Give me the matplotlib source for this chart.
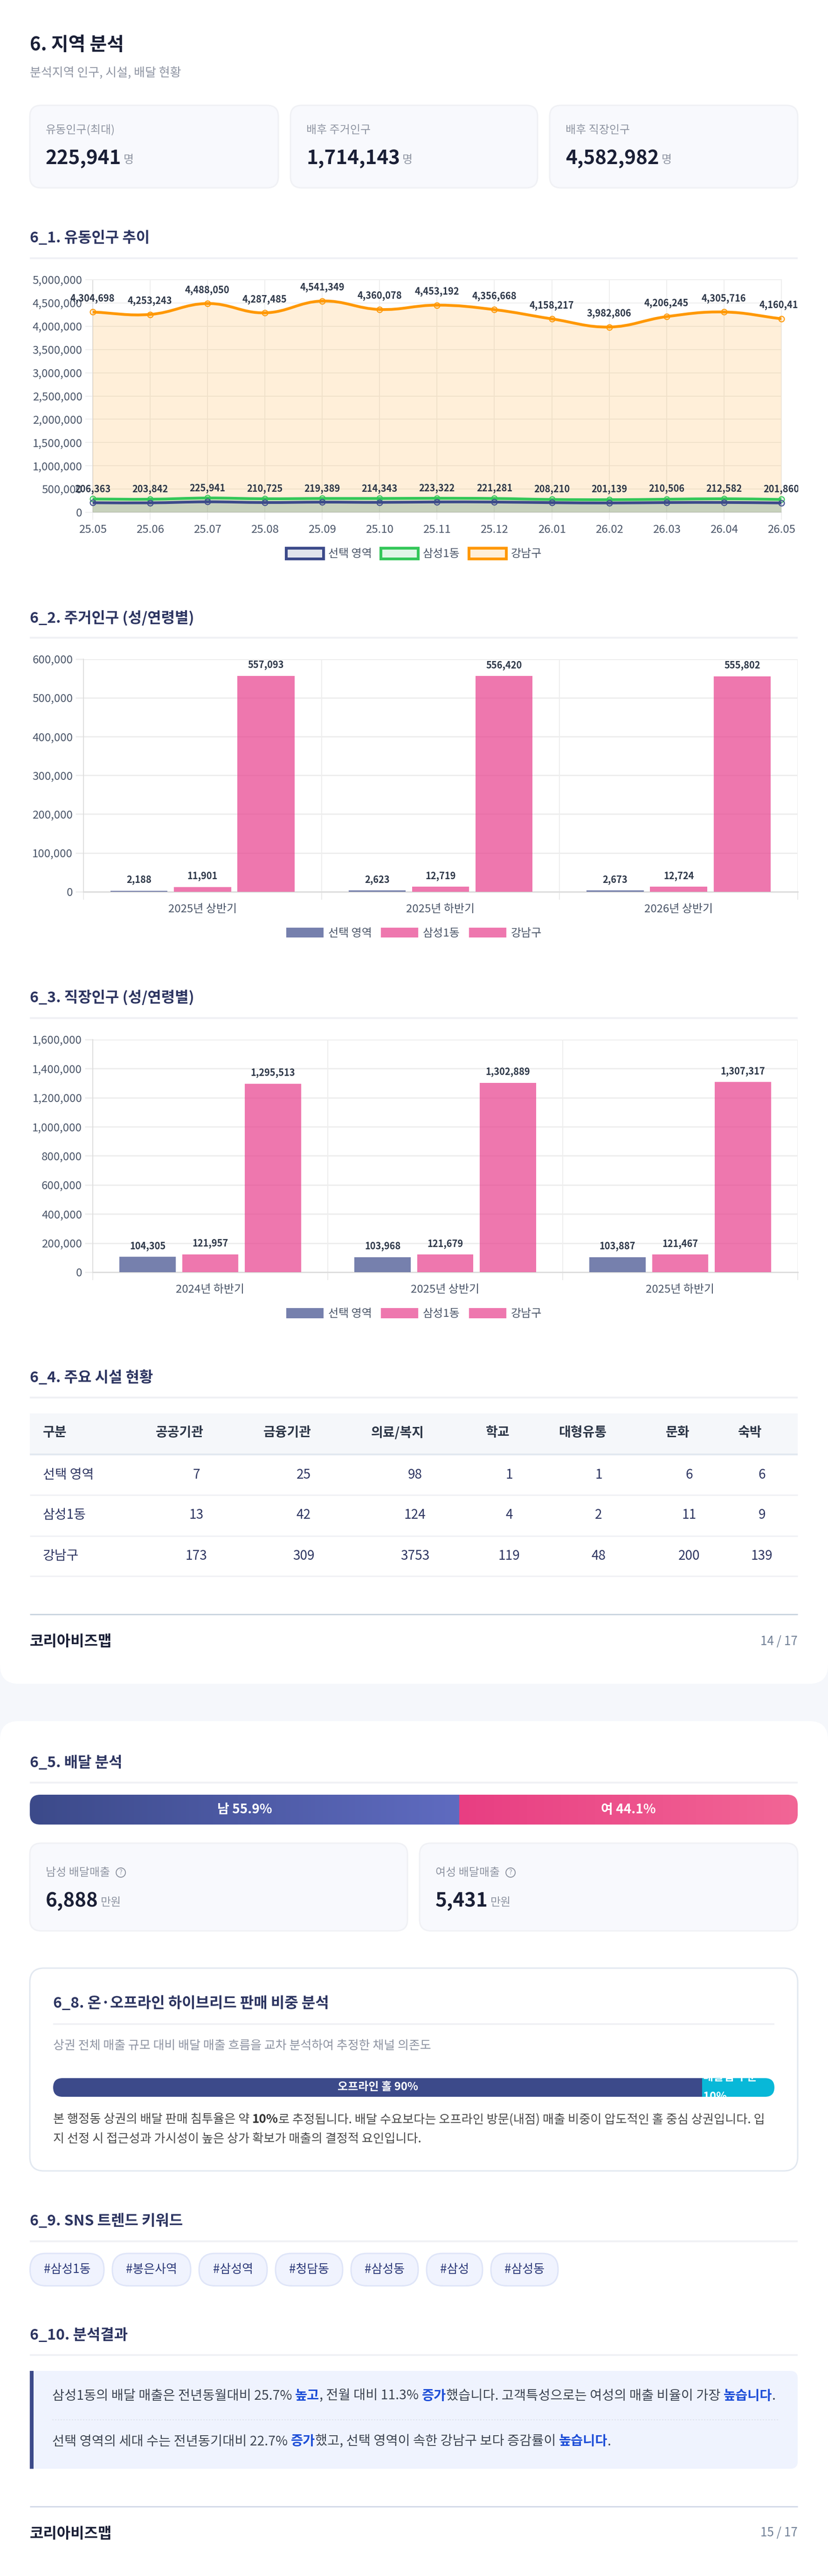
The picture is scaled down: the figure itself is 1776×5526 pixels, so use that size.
import numpy as np
from matplotlib import pyplot as plt
from matplotlib.colors import LinearSegmentedColormap, to_rgba
from matplotlib.patches import Circle, FancyBboxPatch, Patch, PathPatch, Rectangle
from matplotlib.path import Path
from matplotlib.transforms import Bbox

plt.rcParams['font.family'] = ['Noto Sans CJK KR', 'DejaVu Sans']
plt.rcParams['axes.unicode_minus'] = False

W, H = 1776, 5526

# 6_1 유동인구
months = ['25.05', '25.06', '25.07', '25.08', '25.09', '25.10', '25.11', '25.12',
          '26.01', '26.02', '26.03', '26.04', '26.05']
flow_selected = [206363, 203842, 225941, 210725, 219389, 214343, 223322, 221281,
                 208210, 201139, 210506, 212582, 201860]
flow_samsung = [286000, 281000, 307000, 291000, 297000, 297000, 302000, 297000,
                276000, 271000, 281000, 291000, 276000]
flow_gangnam = [4304698, 4253243, 4488050, 4287485, 4541349, 4360078, 4453192, 4356668,
                4158217, 3982806, 4206245, 4305716, 4160417]

# 6_2 주거인구
resident_periods = ['2025년 상반기', '2025년 하반기', '2026년 상반기']
resident_selected = [2188, 2623, 2673]
resident_samsung = [11901, 12719, 12724]
resident_gangnam = [557093, 556420, 555802]

# 6_3 직장인구
worker_periods = ['2024년 하반기', '2025년 상반기', '2025년 하반기']
worker_selected = [104305, 103968, 103887]
worker_samsung = [121957, 121679, 121467]
worker_gangnam = [1295513, 1302889, 1307317]

# 6_4 시설
facility_cols = ['구분', '공공기관', '금융기관', '의료/복지', '학교', '대형유통', '문화', '숙박']
facility_names = ['선택 영역', '삼성1동', '강남구']
facility_selected = [7, 25, 98, 1, 1, 6, 6]
facility_samsung = [13, 42, 124, 4, 2, 11, 9]
facility_gangnam = [173, 309, 3753, 119, 48, 200, 139]

# 6_5, 6_8, 6_9
male_share, female_share = 55.9, 44.1
offline_share, delivery_share = 90, 10
sns_tags = ['#삼성1동', '#봉은사역', '#삼성역', '#청담동', '#삼성동', '#삼성', '#삼성동']

NAVY = '#3c4a8a'
PINK = '#e83e8c'
GREEN = '#34c759'
ORANGE = '#ff9800'
HEAD = '#2d3561'
DARK = '#1a1f36'
GREY = '#8f95a3'
TICK = '#4a5568'
LABEL = '#2d3748'
GRID = '#eeeeee'

fig = plt.figure(figsize=(W / 100, H / 100), dpi=100, facecolor='#f5f7fb')
page = fig.add_axes([0, 0, 1, 1])
page.set_xlim(0, W)
page.set_ylim(H, 0)
page.axis('off')


def pt(px):
    return px * 0.72


def put(x, y, s, size, color=DARK, weight='normal', ha='left', **kw):
    return page.text(x, y, s, fontsize=pt(size), color=color, fontweight=weight,
                     ha=ha, va='center', **kw)


def box(x0, y0, x1, y1, r, fc, ec='none', lw=0, z=1):
    p = FancyBboxPatch((x0, y0), x1 - x0, y1 - y0, boxstyle=f'round,pad=0,rounding_size={r}',
                       fc=fc, ec=ec, lw=pt(lw), zorder=z)
    page.add_patch(p)
    return p


def rule(x0, x1, y, color='#f0f1f5', lw=4):
    page.plot([x0, x1], [y, y], color=color, lw=pt(lw), solid_capstyle='butt', zorder=2)


def section(y_text, y_rule, s, x0=64, x1=1711):
    put(x0, y_text, s, 32, HEAD, 'bold')
    rule(x0, x1, y_rule)


def px_axes(left, top, right, bottom):
    ax = fig.add_axes([left / W, 1 - bottom / H, (right - left) / W, (bottom - top) / H])
    ax.patch.set_alpha(0)
    return ax


def runs(x, y, parts, size):
    r = fig.canvas.get_renderer()
    for s, weight, color in parts:
        t = put(x, y, s, size, color, weight)
        probe = put(0, 0, '|' + s + '|', size, color, weight)
        probe2 = put(0, 0, '||', size, color, weight)
        x += probe.get_window_extent(r).width - probe2.get_window_extent(r).width
        probe.remove()
        probe2.remove()
    return x


def kpi(x0, x1, y0, y1, label, value, unit, help_icon=False, dy=0):
    box(x0, y0, x1, y1, 24, '#f8f9fd', '#f0f1f5', 3)
    x = x0 + 34
    t = put(x, y0 + 53 + dy, label, 24, GREY)
    r = fig.canvas.get_renderer()
    if help_icon:
        cx = t.get_window_extent(r).x1 + 23
        page.add_patch(Circle((cx, y0 + 53 + dy), 10, fc='none', ec=GREY, lw=pt(2), zorder=3))
        put(cx, y0 + 53 + dy, '?', 14, GREY, ha='center', zorder=4)
    v = put(x, y0 + 114 + dy, value, 42, DARK, 'bold')
    put(v.get_window_extent(r).x1 + 5, y0 + 118 + dy, unit, 24, GREY)


def spline(xs, ys, sx, sy, tension=0.4):
    # same control points as a chart.js line with tension 0.4
    px = np.asarray(xs, float) * sx
    py = np.asarray(ys, float) * sy
    verts = [(xs[0], ys[0])]
    codes = [Path.MOVETO]
    n = len(xs)
    cp_next = [None] * n
    cp_prev = [None] * n
    for i in range(n):
        a, b = max(i - 1, 0), min(i + 1, n - 1)
        d01 = np.hypot(px[i] - px[a], py[i] - py[a])
        d12 = np.hypot(px[b] - px[i], py[b] - py[i])
        tot = d01 + d12
        fa, fb = tension * d01 / tot, tension * d12 / tot
        cp_prev[i] = (xs[i] - fa * (xs[b] - xs[a]), ys[i] - fa * (ys[b] - ys[a]))
        cp_next[i] = (xs[i] + fb * (xs[b] - xs[a]), ys[i] + fb * (ys[b] - ys[a]))
    for i in range(n - 1):
        verts += [cp_next[i], cp_prev[i + 1], (xs[i + 1], ys[i + 1])]
        codes += [Path.CURVE4] * 3
    return verts, codes


def legend_on(ax, handles, labels, cx, cy, hw, hh):
    ax.legend(handles, labels, ncol=3, loc='center', bbox_to_anchor=(cx / W, 1 - cy / H),
              bbox_transform=fig.transFigure, frameon=False, fontsize=pt(24),
              handlelength=hw / 24, handleheight=hh / 24, handletextpad=10 / 24,
              columnspacing=19 / 24, borderpad=0, borderaxespad=0, labelcolor=TICK)


def bar_chart(left, top, right, bottom, ymax, step, periods, s1, s2, s3, leg_y, tick_left, tick_down):
    ax = px_axes(left, top, right, bottom)
    xs = np.arange(3) + 0.5
    group = 0.8 / 3
    for off, vals, col in ((-group, s1, NAVY), (0, s2, PINK), (group, s3, PINK)):
        bars = ax.bar(xs + off, vals, width=group * 0.9, color=to_rgba(col, 0.7),
                      edgecolor='none', zorder=3)
        for b, v in zip(bars, vals):
            ax.annotate(f'{v:,}', (b.get_x() + b.get_width() / 2, v), xytext=(0, pt(23)),
                        textcoords='offset points', ha='center', va='center',
                        fontsize=pt(20), fontweight='bold', color=LABEL, zorder=5)
    ax.set_xlim(0, 3)
    ax.set_ylim(0, ymax)
    ax.set_xticks(xs, periods)
    ax.set_xticks([0, 1, 2, 3], minor=True)
    ax.set_yticks(np.arange(0, ymax + 1, step))
    ax.yaxis.set_major_formatter(lambda v, _: f'{int(v):,}')
    ax.tick_params(axis='x', which='major', length=0, pad=pt(26), labelsize=pt(24), labelcolor=TICK)
    ax.tick_params(axis='x', which='minor', length=pt(tick_down), width=pt(1.5), color='#e4e4e4')
    ax.tick_params(axis='y', length=pt(tick_left), width=pt(3), color=GRID, pad=pt(6),
                   labelsize=pt(24), labelcolor=TICK)
    ax.grid(axis='y', color=GRID, lw=pt(3), zorder=1)
    ax.grid(axis='x', which='minor', color='#e8e8e8', lw=pt(1.5), zorder=1)
    ax.set_axisbelow(True)
    for s in ('top', 'right'):
        ax.spines[s].set_visible(False)
    ax.spines['left'].set_color('#dddddd')
    ax.spines['left'].set_linewidth(pt(2))
    ax.spines['left'].set_bounds(0, ymax)
    ax.spines['bottom'].set_color('#dddddd')
    ax.spines['bottom'].set_linewidth(pt(3))
    handles = [Patch(fc=to_rgba(NAVY, 0.7)), Patch(fc=to_rgba(PINK, 0.7)), Patch(fc=to_rgba(PINK, 0.7))]
    legend_on(ax, handles, ['선택 영역', '삼성1동', '강남구'], 888, leg_y, 80, 24)
    return ax


# page cards
box(0, -60, W, 3612, 40, 'white')
box(0, 3692, W, H + 60, 40, 'white')

# header
put(64, 96, '6. 지역 분석', 40, DARK, 'bold')
put(64, 157, '분석지역 인구, 시설, 배달 현황', 26, GREY)
kpi(64, 597, 226, 403, '유동인구(최대)', '225,941', '명')
kpi(623, 1153, 226, 403, '배후 주거인구', '1,714,143', '명')
kpi(1179, 1711, 226, 403, '배후 직장인구', '4,582,982', '명')

# 6_1
section(511, 554, '6_1. 유동인구 추이')
ax1 = px_axes(198.6, 600, 1676, 1099)
sx, sy = (1676 - 198.6) / 12, 499 / 5000000
xpos = list(range(len(months)))
clip = Bbox([[0, 0], [1712, H]])
for vals, col, z, labelled in ((flow_gangnam, ORANGE, 3, True), (flow_samsung, GREEN, 4, False),
                               (flow_selected, NAVY, 5, True)):
    verts, codes = spline(xpos, vals, sx, sy)
    area = Path(verts + [(xpos[-1], 0), (xpos[0], 0), (xpos[0], 0)],
                codes + [Path.LINETO, Path.LINETO, Path.CLOSEPOLY])
    ax1.add_patch(PathPatch(area, fc=to_rgba(col, 0.15), ec='none', zorder=z))
    ax1.add_patch(PathPatch(Path(verts, codes), fc='none', ec=col, lw=pt(6),
                            capstyle='butt', zorder=z + 0.2))
    ax1.plot(xpos, vals, ls='none', marker='o', ms=pt(12), mew=pt(2), mec=col,
             mfc=to_rgba(col, 0.15), zorder=z + 0.3, clip_on=False)
    if labelled:
        for x, v in zip(xpos, vals):
            t = ax1.annotate(f'{v:,}', (x, v), xytext=(0, pt(29)), textcoords='offset points',
                             ha='center', va='center', fontsize=pt(20), fontweight='bold',
                             color=LABEL, zorder=8)
            t.set_clip_box(clip)
            t.set_clip_on(True)
ax1.set_xlim(0, 12)
ax1.set_ylim(0, 5000000)
ax1.set_xticks(xpos, months)
ax1.set_yticks(np.arange(0, 5000001, 500000))
ax1.yaxis.set_major_formatter(lambda v, _: f'{int(v):,}')
ax1.tick_params(axis='x', length=pt(16), width=pt(2), color=GRID, pad=pt(10), labelsize=pt(24), labelcolor=TICK)
ax1.tick_params(axis='y', length=pt(16), width=pt(2), color=GRID, pad=pt(6), labelsize=pt(24), labelcolor=TICK)
ax1.grid(color=GRID, lw=pt(2), zorder=1)
ax1.set_axisbelow(True)
for s in ax1.spines.values():
    s.set_color(GRID)
    s.set_linewidth(pt(2))
ax1.spines['left'].set_color('#dddddd')
ax1.spines['bottom'].set_color('#dddddd')
handles = [Patch(fc=to_rgba(c, 0.15), ec=c, lw=pt(6)) for c in (NAVY, GREEN, ORANGE)]
legend_on(ax1, handles, ['선택 영역', '삼성1동', '강남구'], 888, 1188, 80, 26)

# 6_2, 6_3
section(1326, 1368, '6_2. 주거인구 (성/연령별)')
bar_chart(179, 1414, 1711, 1912.6, 600000, 100000, resident_periods, resident_selected,
          resident_samsung, resident_gangnam, 2002, 17, 17)
section(2140, 2183.5, '6_3. 직장인구 (성/연령별)')
bar_chart(199, 2230, 1711, 2729, 1600000, 200000, worker_periods, worker_selected,
          worker_samsung, worker_gangnam, 2818, 17, 17)

# 6_4 table
section(2956, 2998, '6_4. 주요 시설 현황')
page.add_patch(Rectangle((64, 3032), 1647, 86, fc='#f5f7fa', ec='none', zorder=1))
rule(64, 1711, 3120, '#e2e8f0', 4)
head_x = [92, 334, 565, 796, 1042, 1198, 1428, 1583]
value_x = [421, 651, 890, 1092, 1284, 1478, 1634]
for x, s in zip(head_x, facility_cols):
    put(x, 3073.5, s, 28, LABEL, 'bold')
for name, vals, y, ry in zip(facility_names, (facility_selected, facility_samsung, facility_gangnam),
                             (3164, 3250, 3337.6), (3207, 3295, 3381)):
    put(92, y, name, 28, HEAD)
    for x, v in zip(value_x, vals):
        put(x, y, str(v), 28, HEAD, ha='center')
    rule(64, 1711, ry, '#f0f1f5', 3)

# footers
rule(64, 1711, 3462.5, '#cbd5e0', 3)
put(64, 3522, '코리아비즈맵', 32, DARK, 'bold')
put(1711, 3521, '14 / 17', 26, '#718096', ha='right')

# 6_5
section(3782.5, 3824, '6_5. 배달 분석')
split = 64 + 1647 * male_share / (male_share + female_share)
clip_bar = FancyBboxPatch((64, 3850), 1647, 64, boxstyle='round,pad=0,rounding_size=22', fc='none', ec='none')
page.add_patch(clip_bar)
cm_m = LinearSegmentedColormap.from_list('m', ['#3c4a8a', '#5f6bc0'])
cm_f = LinearSegmentedColormap.from_list('f', ['#e83e82', '#f26696'])
grad = np.linspace(0, 1, 256).reshape(1, -1)
for cm, x0, x1 in ((cm_m, 64, split), (cm_f, split, 1711)):
    im = page.imshow(grad, cmap=cm, extent=(x0, x1, 3914, 3850), aspect='auto', zorder=2)
    im.set_clip_path(clip_bar)
page.set_xlim(0, W)
page.set_ylim(H, 0)
put((64 + split) / 2, 3882, f'남 {male_share}%', 28, 'white', 'bold', ha='center', zorder=3)
put((split + 1711) / 2, 3882, f'여 {female_share}%', 28, 'white', 'bold', ha='center', zorder=3)
kpi(64, 874, 3954, 4142, '남성 배달매출', '6,888', '만원', True, 10)
kpi(900, 1711, 3954, 4142, '여성 배달매출', '5,431', '만원', True, 10)

# 6_8
box(64, 4222, 1711, 4657, 30, 'white', '#e2e8f0', 3)
section(4298, 4342, '6_8. 온·오프라인 하이브리드 판매 비중 분석', 114, 1661)
put(114, 4388, '상권 전체 매출 규모 대비 배달 매출 흐름을 교차 분석하여 추정한 채널 의존도', 26, GREY)
mix = FancyBboxPatch((114, 4458), 1547, 40, boxstyle='round,pad=0,rounding_size=20', fc='none', ec='none')
page.add_patch(mix)
mid = 114 + 1547 * offline_share / (offline_share + delivery_share)
for x0, x1, col in ((114, mid, NAVY), (mid, 1661, '#08b8d8')):
    r = page.add_patch(Rectangle((x0, 4458), x1 - x0, 40, fc=col, ec='none', zorder=3))
    r.set_clip_path(mix)
put((114 + mid) / 2, 4477, f'오프라인 홀 {offline_share}%', 24, 'white', 'bold', ha='center', zorder=4)
for y, s in ((4456, '배달앱 주문'), (4498, f'{delivery_share}%')):
    t = put(mid + 2, y, s, 24, 'white', 'bold', zorder=4)
    t.set_clip_path(mix)
runs(114, 4547, [('본 행정동 상권의 배달 판매 침투율은 약 ', 'normal', '#4a4a4a'), ('10%', 'bold', '#333333'),
                 ('로 추정됩니다. 배달 수요보다는 오프라인 방문(내점) 매출 비중이 압도적인 홀 중심 상권입니다. 입', 'normal', '#4a4a4a')], 26.2)
put(114, 4588, '지 선정 시 접근성과 가시성이 높은 상가 확보가 매출의 결정적 요인입니다.', 26.2, '#4a4a4a')

# 6_9
section(4765, 4808, '6_9. SNS 트렌드 키워드')
pill_x = [(64.5, 223), (241, 409), (427, 573), (591, 735), (753, 897), (915, 1035), (1053, 1197)]
for (x0, x1), tag in zip(pill_x, sns_tags):
    box(x0, 4834, x1, 4903.5, 34, '#f0f3fe', '#dfe5f8', 3)
    put((x0 + x1) / 2, 4868, tag, 26, '#2d3a7a', ha='center', zorder=3)

# 6_10
section(5010, 5052, '6_10. 분석결과')
box(64, 5086, 1711, 5296, 16, '#eff3fe')
page.add_patch(Rectangle((64, 5086), 8, 210, fc=NAVY, ec='none', zorder=3))
BLUE = '#1d4ed8'
TXT = '#3d4553'
runs(112, 5140, [('삼성1동의 배달 매출은 전년동월대비 25.7% ', 'normal', TXT), ('높고', 'bold', BLUE),
                 (', 전월 대비 11.3% ', 'normal', TXT), ('증가', 'bold', BLUE),
                 ('했습니다. 고객특성으로는 여성의 매출 비율이 가장 ', 'normal', TXT), ('높습니다', 'bold', BLUE),
                 ('.', 'normal', TXT)], 28.4)
page.plot([112, 1672], [5190.5, 5190.5], color='#dfe3ee', lw=pt(2), ls=(0, (1.5, 1.5)), zorder=2)
runs(112, 5237.5, [('선택 영역의 세대 수는 전년동기대비 22.7% ', 'normal', TXT), ('증가', 'bold', BLUE),
                   ('했고, 선택 영역이 속한 강남구 보다 증감률이 ', 'normal', TXT), ('높습니다', 'bold', BLUE),
                   ('.', 'normal', TXT)], 28.4)
rule(64, 1711, 5377, '#d3d9e8', 3)
put(64, 5435.5, '코리아비즈맵', 32, DARK, 'bold')
put(1711, 5433, '15 / 17', 26, '#718096', ha='right')

fig.savefig('out.png', dpi=100, facecolor=fig.get_facecolor())
